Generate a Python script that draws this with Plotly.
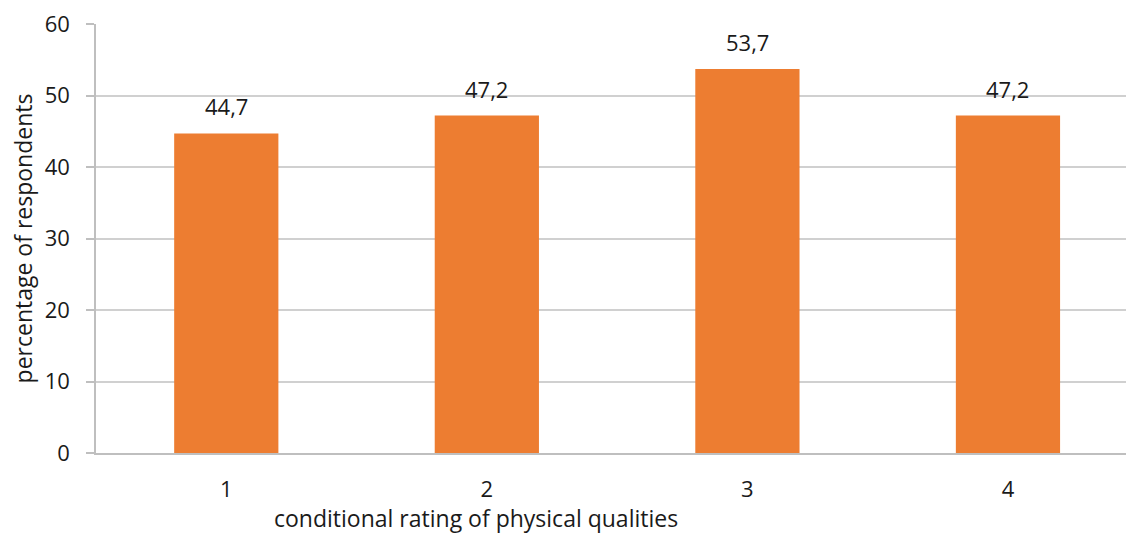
import plotly.graph_objects as go

# Conditional rating categories and share of respondents (%)
categories = ["1", "2", "3", "4"]
values = [44.7, 47.2, 53.7, 47.2]
y_ticks = [0, 10, 20, 30, 40, 50, 60]

labels = [f"{v:.1f}".replace(".", ",") for v in values]

FONT = "Open Sans"
TXT = "#1a1a1a"

fig = go.Figure(
    go.Bar(
        x=categories,
        y=values,
        width=0.4,
        marker=dict(color="#ED7D31", line=dict(width=0)),
        hoverinfo="skip",
    )
)

# value labels above each bar (category positions by index)
for i, (v, t) in enumerate(zip(values, labels)):
    fig.add_annotation(
        x=i, y=v, text=t, showarrow=False, yanchor="bottom", yshift=10,
        font=dict(family=FONT, size=22, color=TXT),
    )

# x axis title
fig.add_annotation(
    xref="paper", yref="paper", x=0.369, y=-0.151, xanchor="center", yanchor="middle",
    text="conditional rating of physical qualities", showarrow=False,
    font=dict(family=FONT, size=23, color=TXT),
)

fig.update_layout(
    width=1126,
    height=536,
    margin=dict(l=96, r=0, t=24, b=83),
    paper_bgcolor="white",
    plot_bgcolor="white",
    showlegend=False,
    font=dict(family=FONT, color=TXT),
    xaxis=dict(
        type="category",
        range=[-0.5, 3.453],
        showgrid=False,
        showline=True,
        linecolor="#bfbfbf",
        linewidth=1.5,
        ticks="",
        tickfont=dict(family=FONT, size=22, color=TXT),
        ticklabelstandoff=16,
    ),
    yaxis=dict(
        range=[0, 60],
        tickvals=y_ticks,
        showgrid=True,
        gridcolor="#d0d0d0",
        gridwidth=1.5,
        zeroline=False,
        showline=True,
        linecolor="#bfbfbf",
        linewidth=1.5,
        ticks="outside",
        ticklen=8,
        tickcolor="#bfbfbf",
        tickwidth=1.5,
        tickfont=dict(family=FONT, size=22, color=TXT),
        ticklabelstandoff=12,
        title=dict(
            text="percentage of respondents",
            font=dict(family=FONT, size=23, color=TXT),
            standoff=6,
        ),
    ),
)

fig.write_html("out.html")
